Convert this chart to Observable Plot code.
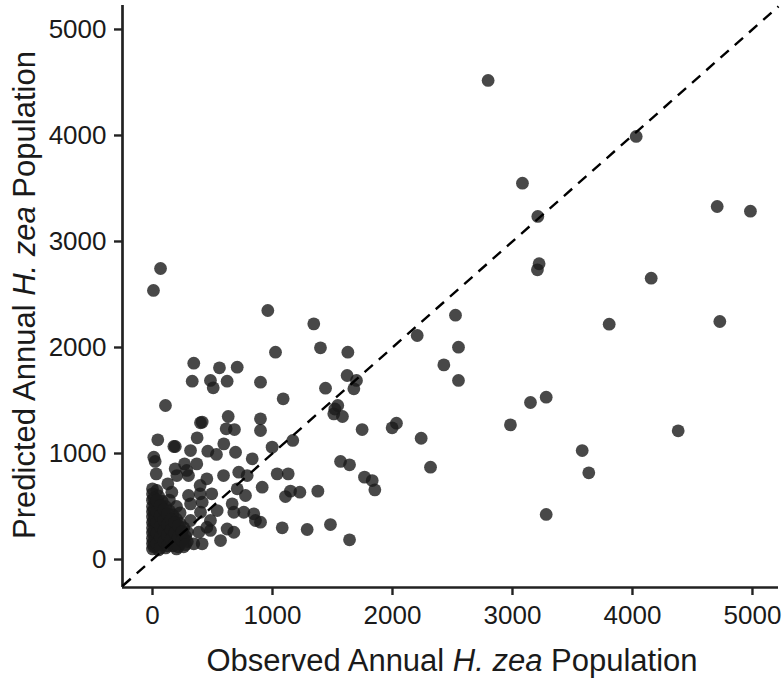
<!DOCTYPE html>
<html>
<head>
<meta charset="utf-8">
<script src="https://cdn.jsdelivr.net/npm/d3@7"></script>
<script src="https://cdn.jsdelivr.net/npm/@observablehq/plot@0.6"></script>
<style>
  body { margin: 0; background: #fff; }
  #chart svg { display: block; }
</style>
</head>
<body>
<div id="chart"></div>
<script>
// Observed vs predicted annual H. zea population
const observed = [
  // high / right side
  2797,4031,3083,3211,3222,3208,4706,4983,4156,2525,2550,2428,2550,3806,4728,3281,3150,2983,4381,3581,3636,3281,
  // middle
  961,1344,1025,1400,1628,2206,1622,1700,1678,1442,900,1089,1544,1511,1583,1520,900,900,1747,1997,2033,2239,2317,
  997,1169,1567,1642,1767,1831,1853,1039,1131,914,1150,1108,1228,1378,900,1081,1289,1483,1642,
  // left outliers
  8,67,
  // left, upper
  344,558,706,331,483,506,622,108,414,400,631,614,683,44,178,190,372,317,461,594,533,692,831,11,
  22,31,267,369,189,286,203,300,453,128,397,592,0,36,161,300,397,494,
  719,789,706,775,664,539,414,317,678,761,844,858,483,400,622,678,567,344,414,386,483,317,453,
  // dense cluster near origin
  0,0,0,0,0,0,0,0,0,0,0,
  20,20,20,20,20,
  50,50,50,50,50,50,
  80,80,80,80,80,
  110,110,110,110,110,
  140,140,140,140,140,
  170,170,170,170,
  200,200,200,200,200,
  230,230,230,230,
  260,260,260,
  290,290,
  10,10,10,10,10,10,
  35,35,35,35,35,
  65,65,65,65,65,
  95,95,95,95,
  125,125,125,125,
  155,155,155,
  185,185,185,
  215,215,215,
  245,245,
  275,275
];
const predicted = [
  4519,3991,3550,3236,2790,2733,3330,3286,2654,2305,2003,1836,1689,2220,2245,1531,1481,1270,1214,1028,818,425,
  2349,2223,1956,1997,1956,2113,1736,1689,1610,1616,1673,1516,1453,1374,1349,1420,1327,1217,1226,1242,1286,1144,871,
  1060,1123,925,893,777,745,657,808,808,682,645,594,635,645,352,299,283,330,186,
  2538,2745,
  1852,1808,1814,1682,1689,1620,1682,1453,1296,1290,1349,1233,1226,1129,1066,1066,1148,1028,1022,1091,991,1012,950,965,
  925,808,902,902,855,840,792,792,761,714,698,792,667,651,635,604,620,620,
  824,792,667,604,525,462,541,525,446,446,431,368,368,446,288,257,179,148,148,257,274,368,305,
  620,560,500,450,400,350,300,250,200,150,100,
  530,420,330,230,130,
  600,480,380,280,180,90,
  550,440,340,240,140,
  500,400,300,200,110,
  560,460,360,260,160,
  420,320,220,130,
  500,380,280,180,100,
  440,340,230,150,
  300,200,120,
  260,170,
  580,470,370,270,170,120,
  560,450,350,250,150,
  510,410,310,210,110,
  470,370,270,170,
  430,330,230,130,
  380,280,190,
  350,250,150,
  320,210,120,
  260,180,
  220,140
];
const xTicks = [0, 1000, 2000, 3000, 4000, 5000];
const yTicks = [0, 1000, 2000, 3000, 4000, 5000];
const xDomain = [-250, 5217];
const yDomain = [-264, 5226];
const xTitle = ["Observed Annual ", "H. zea", " Population"];
const yTitle = ["Predicted Annual ", "H. zea", " Population"];

const points = observed.map((x, i) => ({observed: x, predicted: predicted[i]}));
const lo = Math.max(xDomain[0], yDomain[0]);
const hi = Math.min(xDomain[1], yDomain[1]);
const identity = [{x1: lo, y1: lo, x2: hi, y2: hi}];

const font = "'Liberation Sans', Arial, Helvetica, sans-serif";
const ink = "#1a1a1a";

const plot = Plot.plot({
  width: 784,
  height: 680,
  marginLeft: 122,
  marginRight: 6,
  marginTop: 5,
  marginBottom: 93,
  style: {fontFamily: font, background: "#fff", color: ink},
  x: {domain: xDomain},
  y: {domain: yDomain},
  marks: [
    Plot.axisX({ticks: xTicks, tickSize: 8, tickPadding: 10, label: null, fontSize: 26, tickFormat: d3.format("d")}),
    Plot.axisY({ticks: yTicks, tickSize: 8, tickPadding: 8, label: null, fontSize: 26, tickFormat: d3.format("d")}),
    Plot.ruleY([yDomain[0]], {stroke: "#222", strokeWidth: 2.7}),
    Plot.ruleX([xDomain[0]], {stroke: "#222", strokeWidth: 2.7}),
    Plot.dot(points, {x: "observed", y: "predicted", r: 6.4, fill: "#1a1a1a", fillOpacity: 0.8, stroke: "none"}),
    Plot.link(identity, {x1: "x1", y1: "y1", x2: "x2", y2: "y2", stroke: "#000", strokeWidth: 2.4, strokeDasharray: "11,8"})
  ]
});

const svg = d3.select(plot);
// thicker tick marks like the reference
svg.selectAll('g[aria-label="x-axis tick"], g[aria-label="y-axis tick"]')
  .attr("stroke-width", 2.4).attr("stroke", "#222");

function addTitle(parts, transform) {
  const t = svg.append("text")
    .attr("transform", transform)
    .attr("text-anchor", "middle")
    .attr("dy", "0.35em")
    .attr("fill", ink)
    .style("font-family", font)
    .style("font-size", "31px");
  parts.forEach((p, i) => {
    t.append("tspan").attr("font-style", i === 1 ? "italic" : "normal").text(p);
  });
}
addTitle(xTitle, "translate(452,660)");
addTitle(yTitle, "translate(24,295) rotate(-90)");

document.getElementById("chart").appendChild(plot);
</script>
</body>
</html>
